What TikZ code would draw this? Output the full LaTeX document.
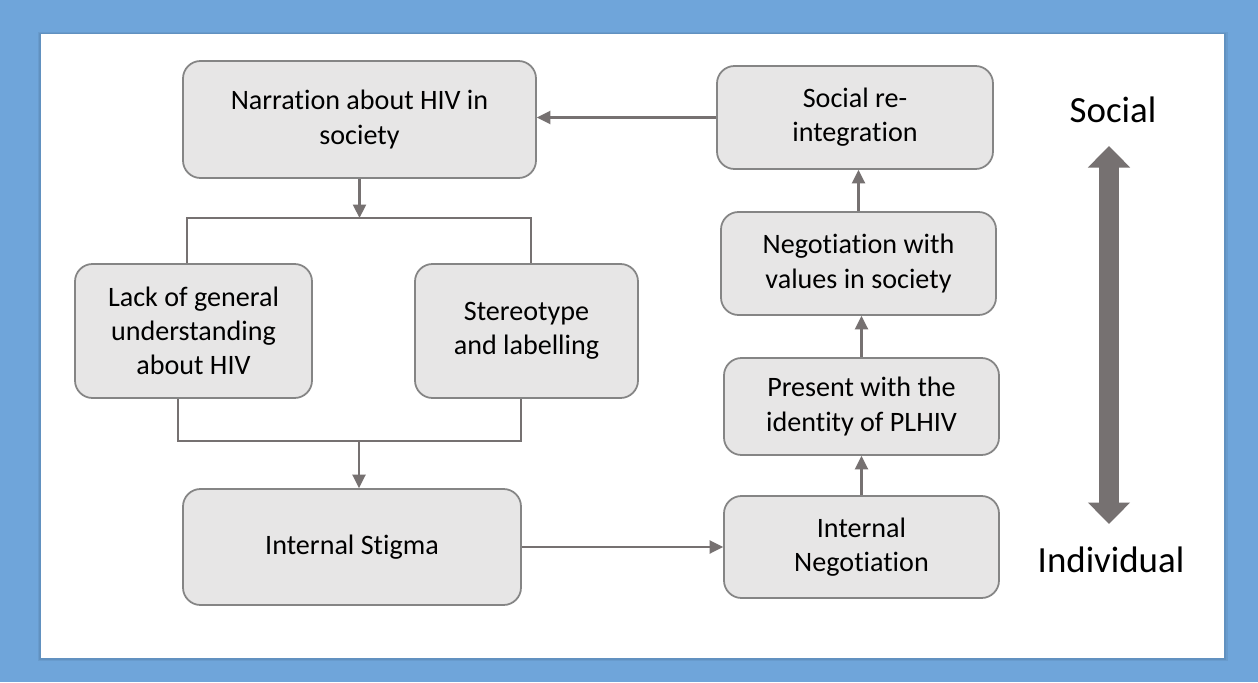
\documentclass[tikz,border=0pt]{standalone}
\usepackage{fontspec}
\setmainfont{Carlito}[Ligatures=NoCommon]
\usetikzlibrary{arrows.meta}

\definecolor{frameblue}{HTML}{6FA5DA}
\definecolor{boxfill}{HTML}{E7E6E6}
\definecolor{boxline}{HTML}{858585}
\definecolor{arrowgray}{HTML}{767171}

\begin{document}
\begin{tikzpicture}[
      box/.style={rectangle, draw=boxline, line width=1pt, rounded corners=0.35cm, fill=boxfill, align=center, inner sep=0pt, font=\fontsize{16}{19.5}\selectfont},
      line/.style={draw=arrowgray, line width=1.3pt},
      arrow/.style={line, -{Triangle[width=0.26cm, length=0.27cm]}},
      axislabel/.style={font=\fontsize{21}{25}\selectfont}
  ]

  % Frame
  \useasboundingbox (0,0) rectangle (25.16,13.64);
  \fill[frameblue] (0,0) rectangle (25.16,13.64);
  \fill[black, opacity=0.06] (0.76,0.42) rectangle (24.56,13.0);
  \fill[black, opacity=0.06] (0.79,0.45) rectangle (24.52,12.98);
  \fill[white] (0.82,0.48) rectangle (24.48,12.96);

  % Nodes (left column)
  \node[box, minimum width=7.06cm, minimum height=2.34cm] (narr) at (7.19,11.25) {Narration about HIV in\\society};
  \node[box, minimum width=4.74cm, minimum height=2.68cm] (lack) at (3.87,7.02) {Lack of general\\understanding\\about HIV};
  \node[box, minimum width=4.46cm, minimum height=2.68cm] (stereo) at (10.53,7.02) {Stereotype\\and labelling};
  \node[box, minimum width=6.76cm, minimum height=2.32cm] (stigma) at (7.04,2.70) {Internal Stigma};

  % Nodes (right column)
  \node[box, minimum width=5.52cm, minimum height=2.06cm] (reint) at (17.10,11.29) {Social re-\\integration};
  \node[box, minimum width=5.50cm, minimum height=2.06cm] (values) at (17.17,8.37) {Negotiation with\\values in society};
  \node[box, minimum width=5.50cm, minimum height=1.94cm] (ident) at (17.23,5.51) {Present with the\\identity of PLHIV};
  \node[box, minimum width=5.50cm, minimum height=2.04cm] (intneg) at (17.23,2.70) {Internal\\Negotiation};

  % Axis
  \node[axislabel] (social) at (22.26,11.44) {Social};
  \node[axislabel] (indiv) at (22.22,2.44) {Individual};
  \coordinate (axtop) at (22.18,10.72);
  \coordinate (axbot) at (22.18,3.16);
  \draw[arrowgray, line width=0.41cm, {Triangle[width=0.82cm, length=0.43cm]}-{Triangle[width=0.82cm, length=0.43cm]}] (axtop) -- (axbot);

  % Branch points
  \coordinate (splitL) at (3.74,9.28);
  \coordinate (splitR) at (10.62,9.28);
  \coordinate (joinL) at (3.56,4.82);
  \coordinate (joinR) at (10.42,4.82);
  \coordinate (joinM) at (7.18,4.82);

  % Arrows
  \draw[arrow] (narr) -- (narr.south |- splitL);
  \draw[line] (splitL |- lack.north) -- (splitL) -- (splitR) -- (splitR |- stereo.north);
  \draw[line] (joinL |- lack.south) -- (joinL) -- (joinR) -- (joinR |- stereo.south);
  \draw[arrow] (joinM) -- (joinM |- stigma.north);
  \draw[arrow] (stigma) -- (intneg);
  \draw[arrow] (intneg.north) -- (intneg.north |- ident.south);
  \draw[arrow] (ident.north) -- (ident.north |- values.south);
  \draw[arrow] (values.north) -- (values.north |- reint.south);
  \draw[arrow] (reint.west) -- (reint.west -| narr.east);

  \end{tikzpicture}
\end{document}
